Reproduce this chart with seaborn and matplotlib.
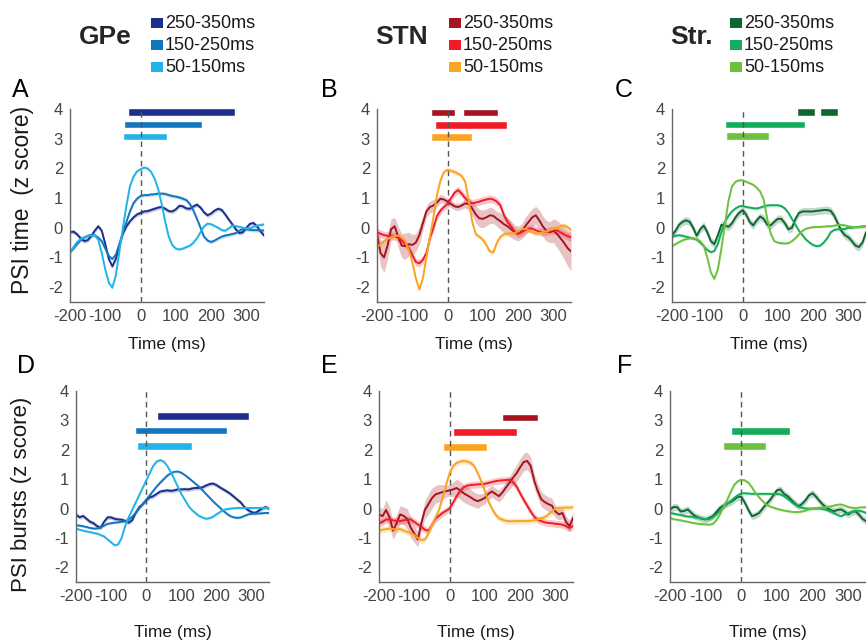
import numpy as np
import pandas as pd
import matplotlib
matplotlib.use('Agg')
import matplotlib.pyplot as plt
from matplotlib.patches import Rectangle
import seaborn as sns

sns.set_style('white')
plt.rcParams['font.family'] = ['Liberation Sans', 'DejaVu Sans']
plt.rcParams['axes.unicode_minus'] = False

W, H = 866, 642  # figure size in px

# time axis of the traces (ms)
t_ms = np.arange(-200, 351, 10)
windows = ['250-350ms', '150-250ms', '50-150ms']
regions = ['GPe', 'STN', 'Str.']
colors = {
    'GPe': ['#1c2f8c', '#1276c0', '#22b3e8'],
    'STN': ['#a6131f', '#ef1c28', '#f9a422'],
    'Str.': ['#0e6731', '#13ad5c', '#6cc13e'],
}

# ---- PSI time (top row) ----
gpe_time_350 = [-0.15, -0.13, -0.22, -0.35, -0.45, -0.42, -0.28, -0.10, 0.05, -0.10,
                -0.55, -1.05, -1.30, -1.05, -0.60, -0.20, 0.05, 0.22, 0.35, 0.45,
                0.50, 0.55, 0.56, 0.60, 0.64, 0.68, 0.70, 0.64, 0.56, 0.55,
                0.62, 0.74, 0.72, 0.65, 0.64, 0.72, 0.78, 0.68, 0.52, 0.42,
                0.48, 0.58, 0.64, 0.60, 0.45, 0.28, 0.12, -0.05, -0.18, -0.15,
                0.00, 0.13, 0.16, 0.05, -0.12, -0.26]
gpe_time_250 = [-0.82, -0.70, -0.55, -0.42, -0.33, -0.27, -0.24, -0.25, -0.33, -0.45,
                -0.70, -0.95, -1.05, -0.90, -0.55, -0.15, 0.20, 0.55, 0.83, 0.98,
                1.07, 1.10, 1.10, 1.12, 1.13, 1.15, 1.15, 1.14, 1.10, 1.07,
                1.05, 1.02, 0.98, 0.93, 0.80, 0.58, 0.30, 0.00, -0.30, -0.43,
                -0.48, -0.43, -0.36, -0.30, -0.26, -0.24, -0.21, -0.18, -0.10, -0.04,
                -0.05, -0.07, -0.08, -0.08, -0.09, -0.09]
gpe_time_150 = [-0.82, -0.65, -0.48, -0.38, -0.32, -0.28, -0.26, -0.25, -0.40, -0.85,
                -1.40, -1.85, -2.02, -1.60, -0.80, 0.00, 0.75, 1.40, 1.72, 1.90,
                1.97, 2.03, 2.00, 1.88, 1.65, 1.30, 0.80, 0.20, -0.30, -0.58,
                -0.70, -0.73, -0.70, -0.65, -0.60, -0.50, -0.35, -0.15, 0.05, 0.14,
                0.12, 0.06, 0.00, -0.08, -0.10, -0.02, 0.07, 0.06, 0.03, 0.00,
                -0.02, -0.02, 0.03, 0.07, 0.10, 0.11]

stn_time_350 = [-0.20, -0.85, -1.00, -0.60, -0.05, 0.05, -0.30, -0.60, -0.62, -0.55,
                -0.58, -0.50, -0.25, 0.15, 0.55, 0.70, 0.75, 0.85, 0.98, 0.95,
                0.88, 0.80, 0.72, 0.70, 0.75, 0.82, 0.80, 0.65, 0.45, 0.32,
                0.30, 0.35, 0.42, 0.40, 0.30, 0.22, 0.12, 0.05, -0.05, -0.15,
                -0.20, -0.12, 0.05, 0.20, 0.35, 0.42, 0.25, 0.05, -0.10, -0.15,
                -0.10, -0.20, -0.35, -0.50, -0.68, -0.80]
stn_time_250 = [-0.15, -0.20, -0.25, -0.27, -0.28, -0.29, -0.33, -0.42, -0.55, -0.68,
                -0.92, -1.15, -1.20, -1.08, -0.85, -0.35, 0.00, 0.40, 0.58, 0.70,
                0.80, 1.00, 1.18, 1.27, 1.15, 1.00, 0.88, 0.82, 0.85, 0.88,
                0.92, 0.95, 0.98, 0.95, 0.88, 0.75, 0.42, 0.20, 0.05, -0.12,
                -0.20, -0.15, -0.08, -0.03, -0.03, -0.08, -0.13, -0.15, -0.13, -0.10,
                -0.08, -0.09, -0.15, -0.22, -0.28, -0.32]
stn_time_150 = [-0.65, -0.55, -0.45, -0.38, -0.32, -0.28, -0.26, -0.32, -0.45, -0.75,
                -1.15, -1.70, -2.08, -1.70, -1.00, -0.30, 0.35, 1.10, 1.60, 1.88,
                1.95, 1.92, 1.88, 1.82, 1.75, 1.55, 0.92, 0.20, -0.22, -0.30,
                -0.40, -0.58, -0.80, -0.82, -0.50, -0.30, -0.22, -0.20, -0.19, -0.18,
                -0.12, -0.05, -0.03, -0.08, -0.15, -0.20, -0.18, -0.15, -0.12, -0.08,
                -0.04, 0.00, 0.05, 0.08, 0.02, -0.08]

str_time_350 = [-0.26, -0.10, 0.10, 0.20, 0.25, 0.20, 0.00, -0.27, -0.05, 0.07,
                -0.15, -0.45, -0.55, -0.25, 0.10, 0.08, 0.03, 0.15, 0.35, 0.50,
                0.59, 0.45, 0.20, 0.08, 0.25, 0.38, 0.30, 0.10, 0.08, 0.20,
                0.30, 0.30, 0.15, -0.05, 0.00, 0.30, 0.50, 0.55, 0.55, 0.55,
                0.55, 0.57, 0.58, 0.60, 0.60, 0.57, 0.40, 0.15, -0.10, -0.25,
                -0.32, -0.45, -0.60, -0.65, -0.50, -0.15]
str_time_250 = [-0.30, -0.27, -0.25, -0.27, -0.30, -0.33, -0.36, -0.40, -0.50, -0.62,
                -0.75, -0.82, -0.78, -0.55, -0.15, 0.20, 0.40, 0.55, 0.65, 0.72,
                0.74, 0.70, 0.68, 0.66, 0.65, 0.68, 0.72, 0.75, 0.76, 0.76,
                0.76, 0.73, 0.65, 0.50, 0.30, 0.10, -0.10, -0.25, -0.40, -0.50,
                -0.58, -0.62, -0.60, -0.50, -0.35, -0.15, -0.07, -0.05, -0.05, -0.04,
                0.00, 0.00, 0.02, 0.03, 0.05, 0.05]
str_time_150 = [-0.62, -0.55, -0.48, -0.42, -0.38, -0.36, -0.35, -0.38, -0.45, -0.60,
                -1.00, -1.50, -1.72, -1.40, -0.70, 0.10, 0.90, 1.40, 1.55, 1.60,
                1.60, 1.55, 1.50, 1.45, 1.35, 1.22, 0.95, 0.30, -0.20, -0.45,
                -0.50, -0.52, -0.53, -0.52, -0.45, -0.35, -0.22, -0.10, -0.03, 0.00,
                0.02, 0.03, 0.03, 0.04, 0.05, 0.05, 0.07, 0.10, 0.10, 0.08,
                0.05, 0.03, 0.02, 0.02, 0.03, 0.05]

# ---- PSI bursts (bottom row) ----
gpe_burst_350 = [-0.20, -0.30, -0.25, -0.35, -0.45, -0.50, -0.60, -0.65, -0.45, -0.30,
                 -0.30, -0.35, -0.37, -0.38, -0.42, -0.48, -0.40, -0.15, 0.05, 0.15,
                 0.28, 0.38, 0.42, 0.50, 0.58, 0.60, 0.62, 0.60, 0.62, 0.65,
                 0.65, 0.66, 0.65, 0.68, 0.70, 0.70, 0.72, 0.78, 0.83, 0.85,
                 0.80, 0.72, 0.65, 0.58, 0.50, 0.40, 0.30, 0.20, 0.05, -0.05,
                 -0.12, -0.15, -0.08, 0.00, 0.05, 0.00]
gpe_burst_250 = [-0.57, -0.58, -0.60, -0.63, -0.66, -0.68, -0.68, -0.65, -0.58, -0.52,
                 -0.50, -0.48, -0.47, -0.45, -0.43, -0.38, -0.28, -0.15, 0.00, 0.15,
                 0.30, 0.45, 0.60, 0.75, 0.88, 1.00, 1.12, 1.20, 1.25, 1.26,
                 1.22, 1.14, 1.05, 0.95, 0.85, 0.75, 0.63, 0.50, 0.38, 0.25,
                 0.14, 0.03, -0.08, -0.18, -0.26, -0.30, -0.32, -0.30, -0.25, -0.20,
                 -0.18, -0.17, -0.17, -0.16, -0.15, -0.15]
gpe_burst_150 = [-0.68, -0.72, -0.75, -0.78, -0.80, -0.83, -0.85, -0.90, -0.95, -1.05,
                 -1.15, -1.25, -1.22, -1.00, -0.60, -0.30, -0.05, 0.20, 0.45, 0.70,
                 0.95, 1.20, 1.45, 1.60, 1.65, 1.60, 1.45, 1.25, 1.00, 0.75,
                 0.50, 0.30, 0.10, -0.05, -0.15, -0.25, -0.30, -0.35, -0.33, -0.28,
                 -0.20, -0.12, -0.05, -0.02, 0.00, 0.01, 0.02, 0.02, 0.02, 0.02,
                 0.02, 0.02, 0.02, 0.02, 0.02, 0.02]

stn_burst_350 = [-0.20, -0.26, -0.05, -0.30, -0.75, -0.50, -0.20, -0.25, -0.35, -0.65,
                 -0.85, -1.05, -0.50, -0.05, 0.15, 0.35, 0.48, 0.52, 0.56, 0.59,
                 0.62, 0.65, 0.70, 0.62, 0.52, 0.45, 0.38, 0.30, 0.25, 0.30,
                 0.36, 0.50, 0.58, 0.50, 0.42, 0.55, 0.72, 0.88, 1.05, 1.20,
                 1.40, 1.58, 1.62, 1.45, 0.95, 0.60, 0.32, 0.22, 0.15, 0.10,
                 -0.10, -0.20, -0.15, -0.45, -0.60, -0.32]
stn_burst_250 = [-0.52, -0.45, -0.38, -0.37, -0.40, -0.42, -0.43, -0.40, -0.38, -0.37,
                 -0.45, -0.54, -0.62, -0.72, -0.76, -0.55, -0.35, -0.25, -0.15, -0.08,
                 0.00, 0.20, 0.42, 0.60, 0.72, 0.78, 0.80, 0.81, 0.82, 0.83,
                 0.84, 0.87, 0.90, 0.93, 0.95, 0.96, 0.97, 0.98, 0.90, 0.75,
                 0.52, 0.30, 0.10, -0.10, -0.28, -0.38, -0.43, -0.47, -0.49, -0.50,
                 -0.52, -0.53, -0.55, -0.60, -0.66, -0.60]
stn_burst_150 = [-0.75, -0.72, -0.70, -0.68, -0.70, -0.72, -0.70, -0.75, -0.80, -0.82,
                 -0.90, -1.00, -1.08, -1.05, -0.85, -0.55, -0.30, -0.05, 0.35, 0.80,
                 1.20, 1.45, 1.55, 1.60, 1.62, 1.60, 1.55, 1.45, 1.20, 0.93,
                 0.60, 0.25, 0.00, -0.20, -0.33, -0.38, -0.42, -0.43, -0.43, -0.43,
                 -0.42, -0.43, -0.42, -0.42, -0.40, -0.37, -0.33, -0.30, -0.20, -0.10,
                 0.00, 0.02, 0.03, 0.03, 0.03, 0.05]

str_burst_350 = [-0.03, 0.05, 0.05, -0.10, -0.08, -0.03, -0.15, -0.25, -0.30, -0.35,
                 -0.37, -0.32, -0.26, -0.12, 0.02, 0.10, 0.17, 0.22, 0.30, 0.40,
                 0.40, 0.20, -0.05, -0.26, -0.22, -0.15, 0.00, 0.15, 0.28, 0.45,
                 0.62, 0.65, 0.50, 0.42, 0.30, 0.18, 0.08, 0.15, 0.28, 0.45,
                 0.52, 0.40, 0.25, 0.12, 0.02, -0.05, -0.09, -0.05, -0.03, -0.10,
                 -0.20, -0.12, -0.09, -0.20, -0.35, -0.43]
str_burst_250 = [-0.15, -0.17, -0.20, -0.22, -0.25, -0.27, -0.28, -0.30, -0.32, -0.34,
                 -0.36, -0.36, -0.30, -0.20, -0.08, 0.05, 0.15, 0.25, 0.36, 0.45,
                 0.52, 0.52, 0.51, 0.50, 0.50, 0.50, 0.50, 0.50, 0.50, 0.50,
                 0.50, 0.48, 0.42, 0.33, 0.23, 0.14, 0.07, 0.03, 0.00, 0.00,
                 0.00, 0.00, 0.00, -0.02, -0.05, -0.09, -0.15, -0.22, -0.26, -0.20,
                 -0.15, -0.12, -0.08, -0.07, -0.10, -0.15]
str_burst_150 = [-0.32, -0.36, -0.38, -0.40, -0.43, -0.45, -0.48, -0.50, -0.52, -0.53,
                 -0.54, -0.55, -0.52, -0.40, -0.20, 0.05, 0.28, 0.55, 0.80, 0.93,
                 0.98, 0.96, 0.88, 0.72, 0.53, 0.38, 0.25, 0.14, 0.07, 0.03,
                 -0.01, -0.04, -0.07, -0.09, -0.11, -0.12, -0.12, -0.10, -0.07, -0.03,
                 0.00, 0.02, 0.03, 0.04, 0.05, 0.07, 0.10, 0.13, 0.14, 0.10,
                 0.05, 0.03, 0.02, 0.03, 0.04, 0.05]

# s.e.m. of the noisy STN 250-350 traces
stn_time_350_sem = [0.30, 0.45, 0.50, 0.45, 0.35, 0.30, 0.35, 0.40, 0.45, 0.40,
                    0.35, 0.30, 0.30, 0.25, 0.20, 0.20, 0.20, 0.15, 0.15, 0.12,
                    0.12, 0.12, 0.12, 0.12, 0.12, 0.15, 0.20, 0.25, 0.28, 0.30,
                    0.30, 0.28, 0.28, 0.25, 0.25, 0.28, 0.30, 0.30, 0.28, 0.25,
                    0.25, 0.25, 0.30, 0.30, 0.30, 0.30, 0.35, 0.35, 0.35, 0.35,
                    0.40, 0.45, 0.50, 0.55, 0.60, 0.65]
stn_burst_350_sem = [0.25, 0.25, 0.35, 0.35, 0.30, 0.30, 0.30, 0.30, 0.35, 0.35,
                     0.30, 0.25, 0.25, 0.30, 0.35, 0.35, 0.30, 0.30, 0.25, 0.20,
                     0.20, 0.25, 0.30, 0.30, 0.30, 0.30, 0.28, 0.25, 0.25, 0.20,
                     0.20, 0.20, 0.20, 0.20, 0.20, 0.20, 0.20, 0.22, 0.25, 0.28,
                     0.30, 0.30, 0.30, 0.30, 0.25, 0.25, 0.25, 0.25, 0.25, 0.25,
                     0.20, 0.20, 0.20, 0.20, 0.20, 0.20]

# significance bars (start, end in ms) per window
bars_A = [[(-36, 268)], [(-47, 174)], [(-50, 74)]]
bars_B = [[(-47, 21), (44, 143)], [(-36, 169)], [(-48, 68)]]
bars_C = [[(154, 206), (221, 270)], [(-51, 176)], [(-47, 75)]]
bars_D = [[(32, 292)], [(-33, 230)], [(-27, 131)]]
bars_E = [[(148, 250)], [(10, 190)], [(-19, 107)]]
bars_F = [[], [(-29, 138)], [(-50, 70)]]

panels = [
    ('A', 'GPe', [gpe_time_350, gpe_time_250, gpe_time_150], [0.07, 0.06, 0.05], bars_A, [3.9, 3.48, 3.08]),
    ('B', 'STN', [stn_time_350, stn_time_250, stn_time_150], [stn_time_350_sem, 0.13, 0.08], bars_B, [3.88, 3.46, 3.06]),
    ('C', 'Str.', [str_time_350, str_time_250, str_time_150], [0.13, 0.05, 0.04], bars_C, [3.9, 3.47, 3.09]),
    ('D', 'GPe', [gpe_burst_350, gpe_burst_250, gpe_burst_150], [0.07, 0.04, 0.04], bars_D, [3.15, 2.65, 2.13]),
    ('E', 'STN', [stn_burst_350, stn_burst_250, stn_burst_150], [stn_burst_350_sem, 0.12, 0.1], bars_E, [3.1, 2.6, 2.1]),
    ('F', 'Str.', [str_burst_350, str_burst_250, str_burst_150], [0.12, 0.05, 0.04], bars_F, [3.1, 2.64, 2.13]),
]

# axes boxes in px: left, top, right, bottom
boxes = {'A': (70, 109, 264, 302), 'B': (377, 109, 571, 302), 'C': (672, 109, 866, 302),
         'D': (76, 391, 269, 582), 'E': (379, 391, 573, 582), 'F': (670, 391, 866, 582)}
letter_xy = {'A': (12, 90), 'B': (321, 90), 'C': (615, 90),
             'D': (17, 366), 'E': (321, 366), 'F': (617, 366)}


def fx(x):
    return x / W


def fy(y):
    return 1 - y / H


fig = plt.figure(figsize=(W / 100, H / 100), dpi=100)

for letter, region, traces, sems, bars, bar_y in panels:
    l, t, r, b = boxes[letter]
    ax = fig.add_axes([fx(l), fy(b), (r - l) / W, (b - t) / H])
    cols = colors[region]

    df = pd.concat([pd.DataFrame({'t': t_ms, 'z': v, 'win': w}) for v, w in zip(traces, windows)])
    for v, s, c in zip(traces, sems, cols):
        v = np.asarray(v)
        s = np.broadcast_to(np.asarray(s, dtype=float), v.shape)
        ax.fill_between(t_ms, v - s, v + s, color=c, alpha=0.25, lw=0)
    sns.lineplot(data=df, x='t', y='z', hue='win', hue_order=windows, palette=cols,
                 lw=1.4, errorbar=None, legend=False, ax=ax)

    for segs, y, c in zip(bars, bar_y, cols):
        for a, e in segs:
            ax.barh(y, e - a, left=a, height=0.25, color=c, zorder=1)
    ax.axvline(0, color='#555555', ls=(0, (4, 3)), lw=1, zorder=1.5)

    ax.set_xlim(-200, 350)
    ax.set_ylim(-2.5, 4)
    ax.set_xticks([-200, -100, 0, 100, 200, 300])
    ax.set_yticks([-2, -1, 0, 1, 2, 3, 4])
    ax.tick_params(direction='in', length=3, width=0.8, color='#666666',
                   labelcolor='#444444', labelsize=12)
    ax.tick_params(axis='y', pad=5)
    ax.tick_params(axis='x', pad=5)
    sns.despine(ax=ax)
    for sp in ['left', 'bottom']:
        ax.spines[sp].set_color('#666666')
        ax.spines[sp].set_linewidth(1)
    ax.set_xlabel('')
    ax.set_ylabel('')

    # axis titles placed in figure pixels
    xl_y = 345 if letter in 'ABC' else 632
    fig.text(fx((l + r) / 2), fy(xl_y), 'Time (ms)', fontsize=12.5, color='#1a1a1a',
             ha='center', va='center')
    if letter == 'A':
        fig.text(fx(23), fy(200), 'PSI time  (z score)', fontsize=16.5, color='#1a1a1a',
                 rotation=90, ha='center', va='center')
    elif letter == 'D':
        fig.text(fx(22), fy(494), 'PSI bursts (z score)', fontsize=16, color='#1a1a1a',
                 rotation=90, ha='center', va='center')

    lx, ly = letter_xy[letter]
    fig.text(fx(lx), fy(ly), letter, fontsize=18, ha='left', va='center', color='black')

# region titles and legends
title_xy = {'GPe': (105, 37), 'STN': (402, 37), 'Str.': (692, 37)}
legend_x = {'GPe': 151, 'STN': 449, 'Str.': 730}
legend_rows = [23, 45, 67]
for region in regions:
    tx, ty = title_xy[region]
    fig.text(fx(tx), fy(ty), region, fontsize=19, fontweight='bold', ha='center', va='center')
    x0 = legend_x[region]
    for w, c, yy in zip(windows, colors[region], legend_rows):
        fig.add_artist(Rectangle((fx(x0), fy(yy + 5)), 12 / W, 10 / H,
                                 transform=fig.transFigure, color=c, lw=0))
        fig.text(fx(x0 + 14), fy(yy), w, fontsize=13, ha='left', va='center', color='#1a1a1a')

fig.savefig('out.png', dpi=100)
